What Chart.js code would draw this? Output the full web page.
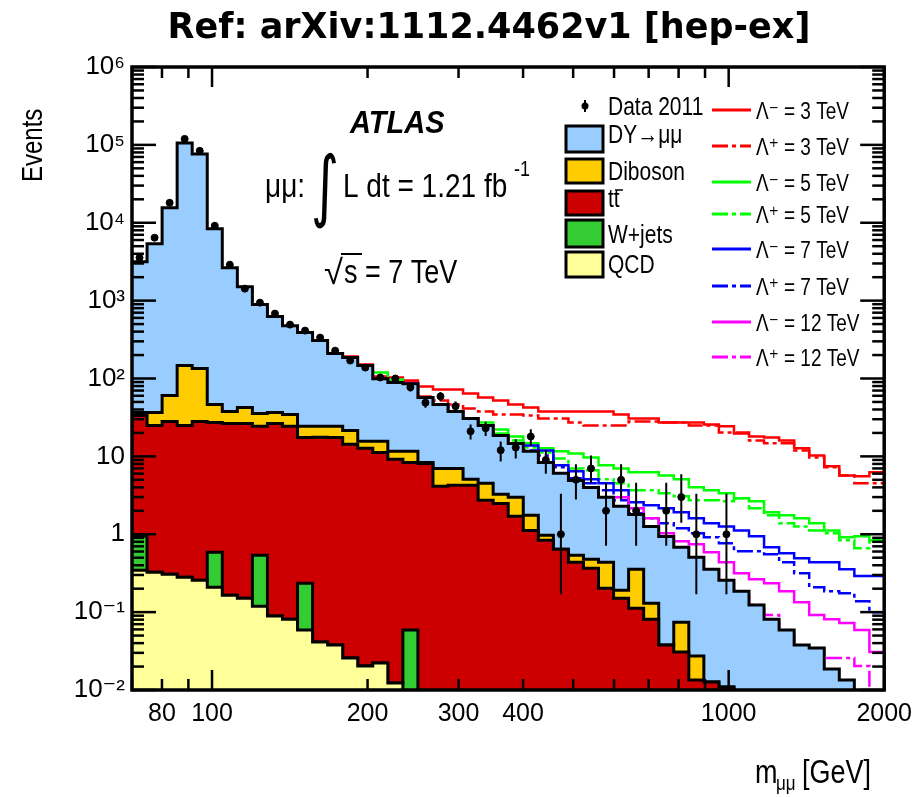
<!DOCTYPE html>
<html><head><meta charset="utf-8">
<script src="https://cdn.jsdelivr.net/npm/chart.js@4.4.1/dist/chart.umd.min.js"></script>
<style>html,body{margin:0;padding:0;background:#fff;}canvas{display:block;}</style>
</head><body>
<canvas id="c" width="921" height="797"></canvas>
<script>
// ---- bin edges of m_mumu [GeV] (50 log bins) ----
const binEdges = [70, 74.86, 80.05, 85.60, 91.54, 97.89, 104.68, 111.94, 119.71, 128.01, 136.89, 146.39, 156.54, 167.40, 179.01, 191.43, 204.71, 218.91, 234.10, 250.34, 267.70, 286.27, 306.13, 327.37, 350.08, 374.37, 400.34, 428.11, 457.81, 489.57, 523.53, 559.85, 598.69, 640.22, 684.63, 732.13, 782.92, 837.23, 895.31, 957.42, 1023.84, 1094.87, 1170.82, 1252.04, 1338.90, 1431.78, 1531.11, 1637.33, 1750.91, 1872.38, 2000];

// ---- Data 2011 ----
const dataCounts = [3556, 6427, 18030, 119400, 83750, 9145, 2893, 1425, 942, 681, 492, 412, 335, 228, 170, 138, 103, 100, 77, 49, 59, 44, 21, 23, 12, 13, 18, 9, 1, 5, 7, 2, 5, 2, 0, 2, 3, 1, 0, 1, 0, 0, 0, 0, 0, 0, 0, 0, 0, 0];
const dataErrLow = [null, null, null, null, null, null, null, null, null, null, null, null, null, null, null, null, null, null, 68, 42, 51.4, 37.4, 16.5, 18.3, 8.6, 9.4, 13.7, 6.0, 0.17, 2.8, 4.6, 0.71, 2.8, 0.71, null, 0.71, 1.4, 0.17, null, 0.17, null, null, null, null, null, null, null, null, null, null];
const dataErrHigh = [null, null, null, null, null, null, null, null, null, null, null, null, null, null, null, null, null, null, 86, 56, 66.7, 50.7, 25.6, 27.8, 15.5, 16.6, 22.3, 12.1, 3.3, 7.9, 10.3, 4.6, 7.9, 4.6, null, 4.6, 5.9, 3.3, null, 3.3, null, null, null, null, null, null, null, null, null, null];

// ---- backgrounds (events per bin) ----
const qcd = [0.345, 0.326, 0.307, 0.281, 0.257, 0.209, 0.165, 0.151, 0.119, 0.0889, 0.0813, 0.0588, 0.0412, 0.0378, 0.0257, 0.0203, 0.0222, 0.0123, 0, 0, 0, 0, 0, 0, 0, 0, 0, 0, 0, 0, 0, 0, 0, 0, 0, 0, 0, 0, 0, 0, 0, 0, 0, 0, 0, 0, 0, 0, 0, 0];
const wjets = [0.6, 0, 0, 0, 0, 0.379, 0, 0, 0.419, 0, 0, 0.176, 0, 0, 0, 0, 0, 0, 0.0588, 0, 0, 0, 0, 0, 0, 0, 0, 0, 0, 0, 0, 0, 0, 0, 0, 0, 0, 0, 0, 0, 0, 0, 0, 0, 0, 0, 0, 0, 0, 0];
const ttbar = [32.5, 24.6, 27.8, 24.6, 27.8, 26.7, 26.3, 26.3, 23.8, 26.4, 24.2, 17.3, 17.5, 17.5, 14.3, 12.7, 11.2, 9.15, 8.31, 8.13, 4.12, 4.25, 4.25, 2.73, 2.49, 1.70, 1.12, 0.838, 0.643, 0.438, 0.366, 0.203, 0.151, 0.112, 0.0813, 0.0378, 0.0307, 0.0134, 0.0127, 0.0109, 0, 0, 0, 0, 0, 0, 0, 0, 0, 0];
const diboson = [3.1, 11.7, 32.4, 122, 106, 19.2, 11.3, 16.0, 11.3, 10.1, 10.2, 6.8, 6.8, 6.8, 7.2, 2.9, 4.4, 2.44, 3.23, 0.24, 2.89, 2.76, 0.82, 1.78, 0.77, 1.28, 0.63, 0.133, 0, 0.10, 0.112, 0.235, 0.040, 0.244, 0.049, 0, 0.0437, 0.0139, 0, 0, 0, 0, 0, 0, 0, 0, 0, 0, 0, 0];
const dyMuMu = [3125, 5346, 15500, 105750, 76430, 8329, 2611, 1468, 853, 587, 443, 365, 283, 185, 164, 131, 84, 77, 74, 48.6, 39.5, 30.8, 25.6, 20.4, 15.3, 11.7, 9.85, 7.40, 5.41, 4.38, 3.52, 2.54, 2.09, 1.44, 1.13, 0.90, 0.606, 0.480, 0.343, 0.246, 0.186, 0.123, 0.081, 0.059, 0.0378, 0.0345, 0.0186, 0.0134, 0, 0];

// ---- contact-interaction signal + background (bins 14..49) ----
const sigFirstBin = 14;
const lamMinus3 = [191, 151, 106, 103, 94.2, 78.9, 72.2, 72.2, 64.2, 57.0, 52.2, 46.5, 42.5, 37.8, 37.8, 37.8, 37.8, 37.8, 34.5, 30.7, 30.7, 27.3, 27.3, 27.3, 25.7, 24.3, 19.7, 18.0, 17.5, 16.0, 12.7, 10.3, 7.45, 5.70, 5.54, 6.24];
const lamPlus3 = [186, 147, 100, 94.2, 88.8, 58.7, 52.2, 46.5, 41.3, 37.8, 34.5, 34.5, 33.5, 30.7, 30.7, 27.3, 24.9, 24.9, 24.9, 28.1, 28.1, 27.3, 27.3, 24.9, 24.9, 20.3, 20.3, 16.0, 14.7, 14.7, 11.9, 9.7, 7.23, 5.70, 4.51, 4.51];
const lamMinus5 = [186, 147, 119, 97.0, 86.3, 57.0, 46.5, 37.8, 30.7, 27.3, 22.2, 18.0, 14.7, 12.7, 11.6, 10.9, 9.7, 7.67, 7.01, 6.24, 6.24, 5.70, 5.07, 4.0, 3.66, 3.35, 2.90, 2.65, 1.91, 1.75, 1.60, 1.38, 1.12, 0.915, 0.94, 0.838];
const lamPlus5 = [186, 147, 100, 88.8, 86.3, 57, 46.5, 37.8, 30.7, 24.9, 19.7, 16.0, 13.0, 11.2, 9.42, 7.01, 6.62, 5.07, 4.51, 3.66, 3.66, 3.35, 3.07, 2.73, 2.73, 2.65, 2.90, 2.15, 1.75, 1.38, 1.26, 1.12, 1.03, 0.838, 0.661, 0.838];
const lamMinus7 = [186, 147, 100, 88.8, 86.3, 57, 46.5, 37.8, 30.7, 24.9, 18.6, 14.7, 13.8, 11.9, 7.67, 6.43, 5.07, 4.51, 3.66, 2.57, 2.35, 2.15, 1.91, 1.60, 1.38, 1.26, 1.12, 0.94, 0.68, 0.570, 0.492, 0.438, 0.438, 0.356, 0.290, 0.290];
const lamPlus7 = [186, 147, 100, 88.8, 86.3, 57, 46.5, 37.8, 30.7, 24.9, 18.6, 14.7, 11.9, 10.3, 7.23, 5.22, 4.51, 3.66, 2.73, 1.86, 1.60, 1.38, 1.19, 1.03, 0.915, 0.767, 0.605, 0.605, 0.555, 0.438, 0.316, 0.209, 0.186, 0.175, 0.138, 0.100];
const lamMinus12 = [186, 147, 100, 88.8, 86.3, 57, 46.5, 37.8, 30.7, 24.9, 18.6, 14.7, 11.6, 8.37, 6.05, 4.92, 4.0, 2.98, 2.98, 2.15, 1.60, 1.03, 0.813, 0.744, 0.588, 0.438, 0.316, 0.265, 0.235, 0.186, 0.134, 0.0916, 0.0813, 0.0723, 0.0588, 0.0307];
const lamPlus12 = [186, 147, 100, 88.8, 86.3, 57, 46.5, 37.8, 30.7, 24.9, 18.6, 14.7, 11.6, 8.37, 6.05, 4.92, 4.0, 2.98, 2.28, 1.80, 1.26, 0.94, 0.68, 0.507, 0.356, 0.257, 0.186, 0.123, 0.0916, 0.055, 0.036, 0.033, 0.0257, 0.0257, 0.0203, 0];

// ---- axis ticks ----
const xTickValues = [80, 100, 200, 300, 400, 1000, 2000];
const xTickLabels = ['80', '100', '200', '300', '400', '1000', '2000'];
const yTickValues = [0.01, 0.1, 1, 10, 100, 1000, 10000, 100000, 1000000];
const yTickLabels = ['10\u207B\u00B2', '10\u207B\u00B9', '1', '10', '10\u00B2', '10\u00B3', '10\u2074', '10\u2075', '10\u2076'];

// ---- build library tables ----
const FLOOR = 1e-4;
const nBins = binEdges.length - 1;
function stackSum(parts) {
  const out = [];
  for (let i = 0; i < nBins; i++) { let s = 0; parts.forEach(p => s += p[i]); out.push(s); }
  return out;
}
function histPoints(vals, first) {
  const pts = [];
  for (let j = 0; j < vals.length; j++) {
    const v = vals[j];
    pts.push({x: binEdges[first + j], y: v > 0 ? v : FLOOR});
  }
  const last = vals[vals.length - 1];
  pts.push({x: binEdges[first + vals.length], y: last > 0 ? last : FLOOR});
  return pts;
}
const cumQCD = stackSum([qcd]);
const cumW = stackSum([qcd, wjets]);
const cumTT = stackSum([qcd, wjets, ttbar]);
const cumVV = stackSum([qcd, wjets, ttbar, diboson]);
const cumDY = stackSum([qcd, wjets, ttbar, diboson, dyMuMu]);
const binCenter = i => Math.sqrt(binEdges[i] * binEdges[i + 1]);
const dataPoints = [];
dataCounts.forEach((n, i) => { if (n > 0) dataPoints.push({x: binCenter(i), y: n, i: i}); });

function stackDS(label, vals, color) {
  return {label, data: histPoints(vals, 0), stepped: 'before', fill: 'start', backgroundColor: color,
    borderColor: '#000', borderWidth: 3, pointRadius: 0, tension: 0};
}
function sigDS(label, vals, color, dashed) {
  return {label, data: histPoints(vals, sigFirstBin), stepped: 'before', fill: false, borderColor: color,
    borderWidth: 2.5, borderDash: dashed ? [16, 4, 4, 4] : [], pointRadius: 0, tension: 0};
}

const signalDefs = [
  {label: '\u039B\u207B = 3 TeV', vals: lamMinus3, color: '#ff0000', dashed: false},
  {label: '\u039B\u207A = 3 TeV', vals: lamPlus3, color: '#ff0000', dashed: true},
  {label: '\u039B\u207B = 5 TeV', vals: lamMinus5, color: '#00ff00', dashed: false},
  {label: '\u039B\u207A = 5 TeV', vals: lamPlus5, color: '#00ff00', dashed: true},
  {label: '\u039B\u207B = 7 TeV', vals: lamMinus7, color: '#0000ff', dashed: false},
  {label: '\u039B\u207A = 7 TeV', vals: lamPlus7, color: '#0000ff', dashed: true},
  {label: '\u039B\u207B = 12 TeV', vals: lamMinus12, color: '#ff00ff', dashed: false},
  {label: '\u039B\u207A = 12 TeV', vals: lamPlus12, color: '#ff00ff', dashed: true}
];
const stackDefs = [
  {label: 'DY\u2192\u03BC\u03BC', color: '#99ccff'},
  {label: 'Diboson', color: '#ffcc00'},
  {label: 'tt', color: '#cc0000', bar: true},
  {label: 'W+jets', color: '#33cc33'},
  {label: 'QCD', color: '#ffff99'}
];

const datasets = [
  {label: 'Data 2011', data: dataPoints, showLine: false, pointRadius: 3.5, pointHoverRadius: 3.5,
   pointBackgroundColor: '#000', pointBorderColor: '#000', borderColor: '#000', backgroundColor: '#000'},
  stackDS('QCD', cumQCD, '#ffff99'),
  stackDS('W+jets', cumW, '#33cc33'),
  stackDS('tt\u0304', cumTT, '#cc0000'),
  stackDS('Diboson', cumVV, '#ffcc00'),
  stackDS('DY\u2192\u03BC\u03BC', cumDY, '#99ccff')
];
for (let k = signalDefs.length - 1; k >= 0; k--) {
  const s = signalDefs[k];
  datasets.push(sigDS(s.label, s.vals, s.color, s.dashed));
}

const SANS = "'Liberation Sans', Arial, 'DejaVu Sans', sans-serif";
function txt(ctx, s, x, y, font, o) {
  o = o || {};
  ctx.save();
  ctx.font = font; ctx.fillStyle = o.color || '#000';
  ctx.textAlign = o.align || 'left'; ctx.textBaseline = o.baseline || 'alphabetic';
  ctx.translate(x, y);
  if (o.rot) ctx.rotate(o.rot);
  ctx.scale(o.sx || 1, o.sy || 1);
  ctx.fillText(s, 0, 0);
  ctx.restore();
}
function seg(ctx, x1, y1, x2, y2) { ctx.beginPath(); ctx.moveTo(x1, y1); ctx.lineTo(x2, y2); ctx.stroke(); }

const decor = {
  id: 'decor',
  beforeDraw(chart) {
    const ctx = chart.ctx;
    ctx.save(); ctx.fillStyle = '#fff'; ctx.fillRect(0, 0, chart.width, chart.height); ctx.restore();
  },
  afterDatasetsDraw(chart) {
    const ctx = chart.ctx, xs = chart.scales.x, ys = chart.scales.y;
    const {left, right, top, bottom} = chart.chartArea;
    ctx.save();
    // error bars
    ctx.strokeStyle = '#000'; ctx.lineWidth = 2;
    ctx.beginPath(); ctx.rect(left, top, right - left, bottom - top); ctx.clip();
    dataPoints.forEach(p => {
      const lo = dataErrLow[p.i], hi = dataErrHigh[p.i];
      if (lo == null || hi == null) return;
      const px = xs.getPixelForValue(p.x);
      seg(ctx, px, ys.getPixelForValue(lo), px, ys.getPixelForValue(hi));
    });
    ctx.restore();
    ctx.save();
    ctx.strokeStyle = '#000'; ctx.lineWidth = 2.5;
    // y ticks (inside, both sides)
    for (let e = -2; e <= 6; e++) {
      for (let m = 1; m <= 9; m++) {
        const v = m * Math.pow(10, e);
        if (v > 1e6 * 1.0001) break;
        const py = ys.getPixelForValue(v);
        const len = m === 1 ? 24 : 12;
        seg(ctx, left, py, left + len, py);
        seg(ctx, right, py, right - len, py);
      }
    }
    // x ticks (inside, top and bottom)
    for (let e = 1; e <= 3; e++) {
      for (let m = 1; m <= 9; m++) {
        const v = m * Math.pow(10, e);
        if (v < 70 || v > 2000) continue;
        const px = xs.getPixelForValue(v);
        const len = m === 1 ? 20 : 11;
        seg(ctx, px, bottom, px, bottom - len);
        seg(ctx, px, top, px, top + len);
      }
    }
    // frame
    ctx.lineWidth = 3.5;
    ctx.strokeRect(left, top, right - left, bottom - top);
    ctx.restore();
  },
  afterDraw(chart) {
    const ctx = chart.ctx;
    // title
    txt(ctx, 'Ref: arXiv:1112.4462v1 [hep-ex]', 489, 38, "bold 35px 'DejaVu Sans', sans-serif", {align: 'center'});
    // axis titles
    txt(ctx, 'Events', 42, 182, '24px ' + SANS, {rot: -Math.PI / 2, sy: 1.25});
    txt(ctx, 'm', 755, 783, '27px ' + SANS, {sy: 1.2});
    txt(ctx, '\u03BC\u03BC', 776, 790, '17px ' + SANS, {sy: 1.2});
    txt(ctx, '[GeV]', 802, 783, '27px ' + SANS, {sy: 1.2});
    // ATLAS labels
    txt(ctx, 'ATLAS', 350, 133, 'italic bold 29px ' + SANS, {sy: 1.1});
    txt(ctx, '\u03BC\u03BC:', 265, 197, '28px ' + SANS, {sy: 1.2});
    txt(ctx, '\u222B', 311, 212, "54px 'DejaVu Sans', sans-serif", {sy: 1.45});
    txt(ctx, 'L dt = 1.21 fb', 343, 197, '28px ' + SANS, {sy: 1.2});
    txt(ctx, '-1', 514, 176, '18px ' + SANS, {sy: 1.2});
    txt(ctx, '\u221A', 324, 284, '30px ' + SANS, {sy: 1.15, sx: 1.15});
    ctx.save(); ctx.strokeStyle = '#000'; ctx.lineWidth = 2; seg(ctx, 341, 254, 362, 254); ctx.restore();
    txt(ctx, 's = 7 TeV', 344, 283, '27px ' + SANS, {sy: 1.2});
    // legend column 1
    ctx.save();
    ctx.fillStyle = '#000'; ctx.strokeStyle = '#000'; ctx.lineWidth = 2;
    ctx.beginPath(); ctx.arc(585, 106, 3.5, 0, Math.PI * 2); ctx.fill();
    seg(ctx, 585, 100, 585, 112);
    ctx.restore();
    txt(ctx, 'Data 2011', 608, 115, '21px ' + SANS, {sy: 1.2});
    const boxY = [126, 159, 191, 220, 252];
    const boxH = [26, 24, 24, 27, 25];
    const textY = [143, 180, 207, 243, 273];
    stackDefs.forEach((s, i) => {
      ctx.save();
      ctx.fillStyle = s.color; ctx.fillRect(566, boxY[i], 37, boxH[i]);
      ctx.strokeStyle = '#000'; ctx.lineWidth = 3; ctx.strokeRect(566, boxY[i], 37, boxH[i]);
      ctx.restore();
      txt(ctx, s.label, 608, textY[i], '21px ' + SANS, {sy: 1.2});
      if (s.bar) {
        ctx.save(); ctx.strokeStyle = '#000'; ctx.lineWidth = 1.5; seg(ctx, 615, 190, 623, 190); ctx.restore();
      }
    });
    // legend column 2
    const rowY = [110, 146, 182, 214, 249, 286, 322, 357];
    signalDefs.forEach((s, i) => {
      ctx.save();
      ctx.strokeStyle = s.color; ctx.lineWidth = 3;
      ctx.setLineDash(s.dashed ? [16, 4, 4, 4] : []);
      seg(ctx, 712, rowY[i], 751, rowY[i]);
      ctx.restore();
      txt(ctx, s.label, 756, rowY[i] + 9, '19px ' + SANS, {sy: 1.25});
    });
  }
};

new Chart(document.getElementById('c'), {
  type: 'line',
  data: {datasets},
  options: {
    responsive: false, animation: false, devicePixelRatio: 1,
    layout: {padding: {left: 0, right: 36, top: 67, bottom: 0}, autoPadding: false},
    plugins: {legend: {display: false}, tooltip: {enabled: false}, title: {display: false}},
    elements: {line: {borderJoinStyle: 'miter', borderCapStyle: 'butt'}},
    scales: {
      x: {
        type: 'logarithmic', min: 70, max: 2000,
        grid: {display: false, drawTicks: false}, border: {display: false},
        afterBuildTicks: s => { s.ticks = xTickValues.map(v => ({value: v})); },
        afterFit: s => { s.height = 107; },
        ticks: {autoSkip: false, maxRotation: 0, padding: 9, color: '#000',
          font: {family: SANS, size: 25},
          callback: (v, i) => xTickLabels[i]}
      },
      y: {
        type: 'logarithmic', min: 0.01, max: 1e6,
        grid: {display: false, drawTicks: false}, border: {display: false},
        afterBuildTicks: s => { s.ticks = yTickValues.map(v => ({value: v})); },
        afterFit: s => { s.width = 132; },
        ticks: {autoSkip: false, padding: 7, color: '#000',
          font: {family: SANS, size: 26},
          callback: (v, i) => yTickLabels[i]}
      }
    }
  },
  plugins: [decor]
});
</script>
</body></html>
